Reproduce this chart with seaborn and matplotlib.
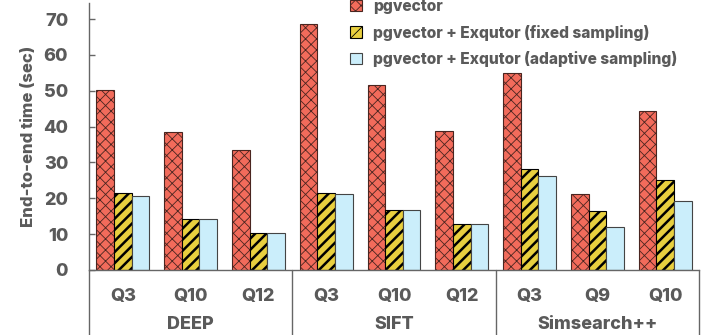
import matplotlib
matplotlib.use("Agg")
import matplotlib.pyplot as plt
import matplotlib.transforms as mtransforms
from matplotlib.patches import Patch
import seaborn as sns
import pandas as pd

groups = ["DEEP", "SIFT", "Simsearch++"]
queries = [["Q3", "Q10", "Q12"], ["Q3", "Q10", "Q12"], ["Q3", "Q9", "Q10"]]
series = ["pgvector", "pgvector + Exqutor (fixed sampling)", "pgvector + Exqutor (adaptive sampling)"]
pgvector = [50.3, 38.4, 33.4, 68.6, 51.6, 38.7, 54.9, 21.3, 44.5]
fixed = [21.6, 14.3, 10.4, 21.5, 16.8, 12.8, 28.2, 16.6, 25.1]
adaptive = [20.7, 14.3, 10.2, 21.2, 16.8, 12.8, 26.3, 12.0, 19.2]

sns.set_theme(style="white")
plt.rcParams['font.family'] = ['Inter', 'DejaVu Sans']
plt.rcParams['hatch.linewidth'] = 0.6
TXT = '#5a5a5a'
W = 800

cats = []
for g, qs in zip(groups, queries):
    for q in qs:
        cats.append(f"{g}|{q}")
rows = []
for i, c in enumerate(cats):
    for s, vals in zip(series, [pgvector, fixed, adaptive]):
        rows.append({"cat": c, "series": s, "value": vals[i]})
df = pd.DataFrame(rows)

colors = ['#F26B5B', '#E8CF3F', '#CBEEFB']
hatches = ['xxx', '///', '']
hcolors = ['#4a2520', '#000000', '#444444']
hlw = [0.6, 1.8, 0.6]

fig = plt.figure(figsize=(7.11, 3.35), dpi=100)
ax = fig.add_axes([89/711, 65/335, 610/711, 267/335])
sns.barplot(data=df, x="cat", y="value", hue="series", order=cats, hue_order=series,
            palette=colors, width=0.78, saturation=1, ax=ax, legend=False,
            edgecolor='#333333', linewidth=0.8)

for k, cont in enumerate(ax.containers):
    for bar in cont:
        bar.set_hatch(hatches[k])
        bar.set_edgecolor(hcolors[k])
        if hasattr(bar, 'set_hatch_linewidth'):
            bar.set_hatch_linewidth(hlw[k])

ax.set_xlim(-0.5, len(cats) - 0.5)
ax.set_ylim(0, 74.5)
ax.set_yticks(range(0, 71, 10))
ax.set_xticks(range(len(cats)))
ax.set_xticklabels([c.split("|")[1] for c in cats], fontsize=13, fontweight=W, color=TXT)
ax.tick_params(axis='x', length=0, pad=13)
ax.tick_params(axis='y', direction='in', length=4.5, width=1, color='#666666', labelsize=13,
               labelcolor=TXT, left=True, pad=15)
for t in ax.get_yticklabels():
    t.set_fontweight(W)
ax.set_xlabel("")
ax.set_ylabel("End-to-end time (sec)", fontsize=12, fontweight=W, color=TXT, labelpad=5)
for sp in ['top', 'right']:
    ax.spines[sp].set_visible(False)
for sp in ['left', 'bottom']:
    ax.spines[sp].set_color('#666666')
    ax.spines[sp].set_linewidth(1.0)

trans = mtransforms.blended_transform_factory(ax.transData, ax.transAxes)
start = 0
for g, qs in zip(groups, queries):
    n = len(qs)
    ax.text(start + (n - 1) / 2, -0.205, g, transform=trans, ha='center', va='center',
            fontsize=13, fontweight=W, color=TXT)
    start += n
for xb in [-0.5, 2.5, 5.5, 8.5]:
    ax.plot([xb, xb], [0, -0.25], transform=trans, color='#666666', lw=1.0, clip_on=False)

handles = [Patch(facecolor=colors[k], hatch=hatches[k], edgecolor=hcolors[k], linewidth=0.8)
           for k in range(3)]
leg = fig.legend(handles, series, loc='upper left', bbox_to_anchor=(336/711, 1.045),
                 frameon=False, fontsize=11.2, handlelength=0.75, handleheight=0.75,
                 handletextpad=0.75, labelspacing=0.68)
for t in leg.get_texts():
    t.set_color(TXT)
    t.set_fontweight(W)

fig.savefig("out.png", dpi=100)
